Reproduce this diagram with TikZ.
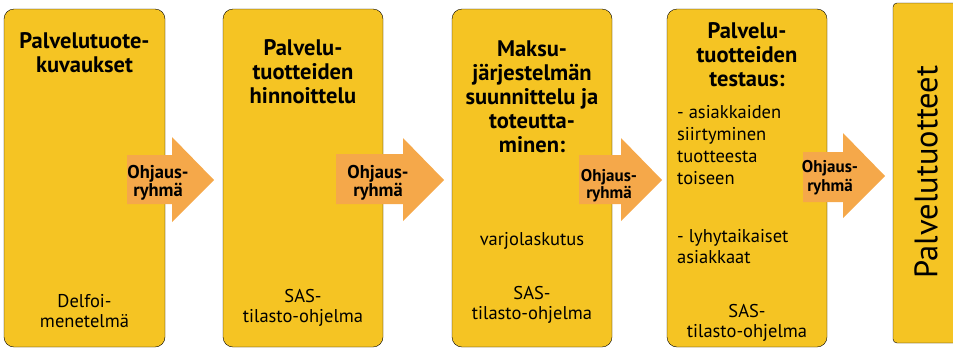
\documentclass[tikz,border=0pt]{standalone}
\usepackage{fontspec}
\setmainfont{PT Sans}
\usetikzlibrary{positioning}
\definecolor{boxyellow}{RGB}{245,196,35}
\definecolor{arroworange}{RGB}{245,168,74}

\begin{document}
\begin{tikzpicture}[x=1pt,y=-1pt,
  phase/.style={fill=boxyellow,rounded corners=10pt},
  title/.style={anchor=north,inner sep=0pt,align=center,font=\bfseries\fontsize{22.5}{24}\selectfont},
  body/.style={anchor=north,inner sep=0pt,align=center,font=\fontsize{18.5}{20}\selectfont},
  steer/.style={fill=arroworange},
  steertext/.style={anchor=north,inner sep=0pt,align=center,font=\bfseries\fontsize{18.5}{17}\selectfont}]
\useasboundingbox (0,0) rectangle (953,349);
% phases
\draw[phase] (4,9) rectangle (165,347);
\draw[phase] (223,9) rectangle (383,347);
\draw[phase] (452,9) rectangle (612,347);
\draw[phase] (667,9) rectangle (827,347);
\draw[fill=boxyellow,rounded corners=4pt] (893,3) rectangle (975,343);
% steering group arrows
\fill[steer] (127,155) -- (172,155) -- (172,137) -- (214,180) -- (172,222) -- (172,204) -- (127,204) -- cycle;
\fill[steer] (336,154) -- (403,154) -- (403,138) -- (444,180) -- (403,221) -- (403,204) -- (336,204) -- cycle;
\fill[steer] (579,155) -- (621,155) -- (621,138) -- (662,180) -- (621,221) -- (621,204) -- (579,204) -- cycle;
\fill[steer] (803,152) -- (843,152) -- (843,133) -- (885,176) -- (843,218) -- (843,202) -- (803,202) -- cycle;
% texts
\node[title] at (84.5,32) (t1) {Palvelutuote-\\kuvaukset};
\node[title] at (303,39) (t2) {Palvelu-\\tuotteiden\\hinnoittelu};
\node[title] at (532,41) (t3) {Maksu-\\järjestelmän\\suunnittelu ja\\toteutta-\\minen:};
\node[title] at (747,22) (t4) {Palvelu-\\tuotteiden\\testaus:};
\node[body] at (84.5,293.7) (b1) {Delfoi-\\menetelmä};
\node[body] at (303,289) (b2) {SAS-\\tilasto-ohjelma};
\node[body] at (532,231.7) (v3) {varjolaskutus};
\node[body] at (532,286) (b3) {SAS-\\tilasto-ohjelma};
\node[body,anchor=north west,align=left,font=\fontsize{18.5}{22}\selectfont] at (677,104.7) (c4) {- asiakkaiden\\siirtyminen\\tuotteesta\\toiseen};
\node[body,anchor=north west,align=left,font=\fontsize{18.5}{21}\selectfont] at (677,228.7) (d4) {- lyhytaikaiset\\asiakkaat};
\node[body] at (747,304) (b4) {SAS-\\tilasto-ohjelma};
\node[steertext] at (158,164.7) (s1) {Ohjaus-\\ryhmä};
\node[steertext] at (378,164.7) (s2) {Ohjaus-\\ryhmä};
\node[steertext,font=\bfseries\fontsize{17}{15.5}\selectfont] at (609,169) (s3) {Ohjaus-\\ryhmä};
\node[steertext,font=\bfseries\fontsize{17}{19}\selectfont] at (830,160) (s4) {Ohjaus-\\ryhmä};
\node[rotate=90,inner sep=0pt,font=\fontsize{32.5}{32.5}\selectfont] at (926,172) (out) {Palvelutuotteet};
\end{tikzpicture}
\end{document}
